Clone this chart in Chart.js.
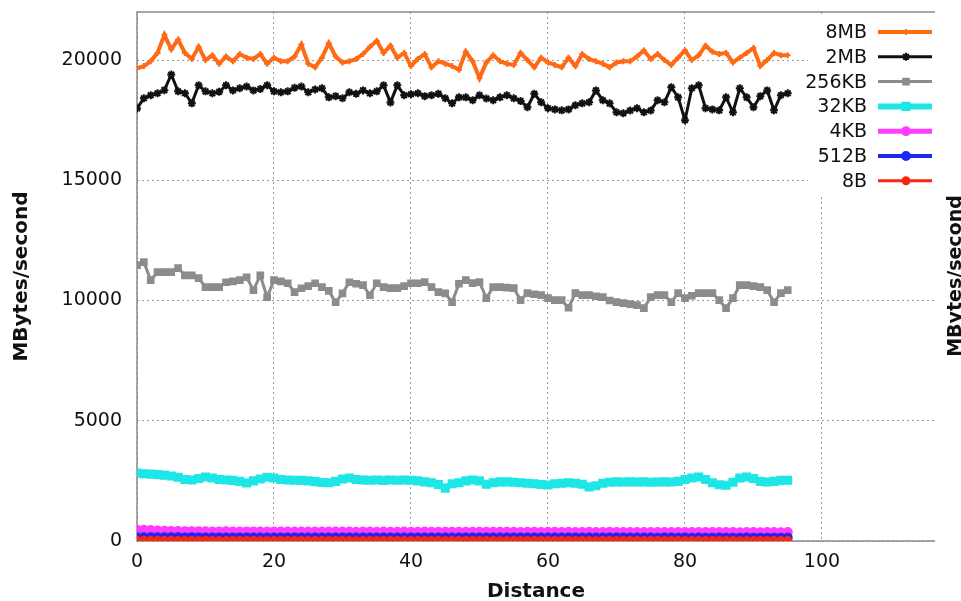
<!DOCTYPE html>
<html>
<head>
<meta charset="utf-8">
<script src="https://cdn.jsdelivr.net/npm/chart.js@4.4.0/dist/chart.umd.min.js"></script>
<style>
  html, body { margin: 0; padding: 0; background: #fff; }
  #caixa { width: 961px; height: 601px; }
</style>
</head>
<body>
<div id="caixa"><canvas id="grafico" width="961" height="601"></canvas></div>
<script>
// eixo x (distancia) e ticks
const distancia = [
  0,1,2,3,4,5,6,7,8,9,10,11,12,13,14,15,16,17,18,19,20,21,22,23,
  24,25,26,27,28,29,30,31,32,33,34,35,36,37,38,39,40,41,42,43,44,45,46,47,
  48,49,50,51,52,53,54,55,56,57,58,59,60,61,62,63,64,65,66,67,68,69,70,71,
  72,73,74,75,76,77,78,79,80,81,82,83,84,85,86,87,88,89,90,91,92,93,94,95
];
const xTicks = [0, 20, 40, 60, 80, 100];
const yTicks = [0, 5000, 10000, 15000, 20000];

// MBytes/second por tamanho de bloco
const serie8MB = [
  19660,19750,19950,20300,21050,20450,20850,20300,20050,20550,20000,20200,
  19850,20150,19950,20250,20100,20050,20250,19850,20100,19950,19950,20150,
  20650,19850,19700,20100,20700,20150,19900,19950,20050,20250,20550,20800,
  20300,20600,20100,20300,19750,20050,20250,19700,19950,19850,19750,19600,
  20350,19950,19250,19900,20200,19950,19850,19800,20300,20000,19700,20100,
  19900,19800,19700,20100,19750,20250,20050,19950,19850,19700,19900,19950,
  19950,20150,20400,20050,20250,20000,19800,20100,20400,20000,20200,20600,
  20350,20250,20300,19900,20100,20300,20500,19750,20000,20300,20200,20200
];
const serie2MB = [
  17990,18410,18540,18620,18750,19400,18700,18620,18200,18950,18700,18620,
  18680,18950,18740,18830,18900,18740,18800,18950,18700,18660,18700,18850,
  18900,18660,18780,18830,18450,18500,18410,18660,18600,18740,18620,18700,
  18950,18240,18950,18540,18580,18620,18500,18540,18600,18410,18200,18450,
  18450,18330,18540,18400,18330,18450,18540,18410,18300,18040,18600,18250,
  18000,17950,17910,17950,18120,18200,18245,18740,18330,18200,17830,17790,
  17900,18000,17830,17900,18330,18245,18870,18450,17500,18830,18950,18000,
  17950,17910,18450,17830,18830,18450,18040,18500,18740,17910,18540,18620
];
const serie256KB = [
  11470,11600,10850,11180,11180,11180,11350,11050,11050,10930,10560,10560,
  10560,10760,10800,10850,10970,10430,11050,10140,10850,10800,10720,10350,
  10510,10600,10720,10560,10400,9930,10300,10760,10700,10640,10220,10720,
  10560,10515,10515,10600,10720,10720,10764,10556,10348,10300,9933,10700,
  10847,10722,10764,10100,10556,10556,10540,10515,10020,10307,10260,10224,
  10100,10016,10016,9700,10307,10224,10224,10180,10140,10000,9933,9891,
  9850,9808,9683,10140,10224,10224,9933,10307,10099,10200,10307,10307,
  10307,10016,9683,10099,10639,10639,10600,10556,10431,9933,10307,10431
];
const serie32KB = [
  2830,2800,2780,2760,2740,2700,2650,2560,2540,2600,2660,2620,
  2560,2540,2520,2480,2410,2500,2580,2650,2620,2560,2540,2530,
  2520,2500,2470,2430,2420,2480,2580,2620,2560,2540,2530,2540,
  2520,2540,2530,2540,2530,2500,2460,2420,2350,2200,2380,2420,
  2500,2540,2500,2360,2420,2460,2460,2440,2420,2400,2380,2350,
  2330,2380,2400,2420,2400,2360,2250,2300,2400,2440,2460,2450,
  2460,2450,2460,2440,2450,2460,2450,2480,2560,2620,2660,2560,
  2420,2340,2320,2440,2620,2660,2600,2480,2450,2480,2520,2530
];
const serie4KB = [
  470,465,455,440,430,420,415,410,410,405,405,400,
  400,405,400,395,400,400,395,395,400,395,390,395,
  395,390,395,390,390,395,390,390,385,390,390,385,
  390,385,385,390,385,385,390,385,380,385,385,380,
  385,380,380,385,380,380,385,380,375,380,380,375,
  380,380,375,380,375,375,380,375,375,380,375,375,
  370,375,375,370,375,375,370,375,370,370,375,370,
  370,375,370,370,365,370,370,365,370,370,365,370
];
const serie512B = [
  160,158,156,155,154,152,152,150,151,150,149,150,
  150,149,148,150,149,148,148,147,149,148,147,148,
  148,147,146,148,147,146,147,146,145,147,146,145,
  146,145,146,145,144,146,145,144,145,144,145,144,
  144,145,143,144,145,143,144,143,144,143,142,144,
  143,142,144,143,142,143,142,141,143,142,141,142,
  142,141,142,141,140,142,141,140,141,140,141,140,
  140,141,140,139,140,141,139,140,139,140,139,140
];
const serie8B = [
  28,27,27,26,26,26,25,26,25,25,26,25,
  25,24,25,25,24,25,24,24,25,24,24,25,
  24,24,23,24,24,23,24,23,24,23,23,24,
  23,23,24,23,22,23,23,22,23,22,23,22,
  22,23,22,22,23,22,21,22,22,21,22,22,
  21,22,21,21,22,21,21,22,21,21,20,21,
  21,20,21,20,21,21,20,21,20,20,21,20,
  20,21,20,20,19,20,20,19,20,20,19,20
];

const nomes = ['8MB', '2MB', '256KB', '32KB', '4KB', '512B', '8B'];
const valores = [serie8MB, serie2MB, serie256KB, serie32KB, serie4KB, serie512B, serie8B];
const cores = ['#ff6a14', '#111111', '#8c8c8c', '#1ee6e6', '#ff3cff', '#1e28f0', '#ff2410'];
const estilos = [
  { linha: 4, ponto: 'cross', raio: 3 },
  { linha: 3, ponto: 'star', raio: 4 },
  { linha: 3, ponto: 'rect', raio: 4 },
  { linha: 6, ponto: 'rect', raio: 5 },
  { linha: 5, ponto: 'circle', raio: 4 },
  { linha: 4, ponto: 'circle', raio: 4 },
  { linha: 3, ponto: 'circle', raio: 3.5 }
];

const fonte = "'DejaVu Sans', sans-serif";

const datasets = nomes.map((nome, i) => ({
  label: nome,
  data: distancia.map((d, j) => ({ x: d, y: valores[i][j] })),
  borderColor: cores[i],
  backgroundColor: cores[i],
  borderWidth: estilos[i].linha,
  pointStyle: estilos[i].ponto,
  pointRadius: estilos[i].raio,
  pointBorderWidth: 2,
  tension: 0,
  order: nomes.length - i  // o ultimo da legenda fica por cima
}));

// moldura estilo gnuplot
const moldura = {
  id: 'moldura',
  beforeDatasetsDraw(chart) {
    const a = chart.chartArea;
    const ctx = chart.ctx;
    ctx.save();
    ctx.strokeStyle = '#8a8a8a';
    ctx.lineWidth = 1.5;
    ctx.beginPath();
    ctx.moveTo(a.right, a.top);
    ctx.lineTo(a.left, a.top);
    ctx.lineTo(a.left, a.bottom);
    ctx.lineTo(a.right, a.bottom);
    ctx.stroke();
    ctx.restore();
  }
};

// legenda com a linha a direita do texto
const legenda = {
  id: 'legenda',
  afterDatasetsDraw(chart) {
    const ctx = chart.ctx;
    ctx.save();
    ctx.fillStyle = '#fff';
    ctx.fillRect(808, 14, 127, 180);
    ctx.font = '19px ' + fonte;
    ctx.textAlign = 'right';
    ctx.textBaseline = 'middle';
    nomes.forEach((nome, i) => {
      const y = 32 + i * 24.8;
      ctx.fillStyle = '#111';
      ctx.fillText(nome, 867, y + 1);
      ctx.strokeStyle = cores[i];
      ctx.fillStyle = cores[i];
      ctx.lineWidth = estilos[i].linha;
      ctx.beginPath();
      ctx.moveTo(878, y);
      ctx.lineTo(932, y);
      ctx.stroke();
      ctx.lineWidth = 2;
      Chart.helpers.drawPoint(ctx, {
        pointStyle: estilos[i].ponto, radius: estilos[i].raio, rotation: 0, borderWidth: 2
      }, 906, y);
    });
    ctx.restore();
  }
};

// rotulo do eixo y2 (cortado na borda)
const rotuloDireita = {
  id: 'rotuloDireita',
  afterDraw(chart) {
    const ctx = chart.ctx;
    ctx.save();
    ctx.translate(956, 276);
    ctx.rotate(-Math.PI / 2);
    ctx.font = 'bold 19px ' + fonte;
    ctx.fillStyle = '#111';
    ctx.textAlign = 'center';
    ctx.textBaseline = 'middle';
    ctx.fillText('MBytes/second', 0, 0);
    ctx.restore();
  }
};

const ctxGrafico = document.getElementById('grafico').getContext('2d');
const grafico = new Chart(ctxGrafico, {
  type: 'line',
  data: { datasets: datasets },
  plugins: [moldura, legenda, rotuloDireita],
  options: {
    responsive: false,
    animation: false,
    devicePixelRatio: 1,
    layout: { padding: { top: 12, right: 26, left: 0, bottom: 0 } },
    plugins: {
      legend: { display: false },
      tooltip: { enabled: false }
    },
    scales: {
      x: {
        type: 'linear',
        min: 0,
        max: 116.5,
        afterBuildTicks: (s) => { s.ticks = xTicks.map(v => ({ value: v })); },
        afterFit: (s) => { s.height = 60; },
        grid: { color: '#9a9a9a', lineWidth: 1, drawTicks: false },
        border: { display: false, dash: [2, 3] },
        ticks: { color: '#111', font: { family: fonte, size: 19 }, padding: 10, maxRotation: 0 },
        title: { display: true, text: 'Distance', color: '#111', font: { family: fonte, size: 20, weight: 'bold' }, padding: { top: 0, bottom: -3 } }
      },
      y: {
        min: 0,
        max: 22000,
        afterBuildTicks: (s) => { s.ticks = yTicks.map(v => ({ value: v })); },
        afterFit: (s) => { s.width = 137; s.paddingTop = 0; s.paddingBottom = 0; },
        grid: { color: '#9a9a9a', lineWidth: 1, drawTicks: false },
        border: { display: false, dash: [2, 3] },
        ticks: { color: '#111', font: { family: fonte, size: 19 }, padding: 15, callback: (v) => String(v) },
        title: { display: true, text: 'MBytes/second', color: '#111', font: { family: fonte, size: 20, weight: 'bold' }, padding: { top: 10, bottom: 0 } }
      }
    }
  }
});
</script>
</body>
</html>
